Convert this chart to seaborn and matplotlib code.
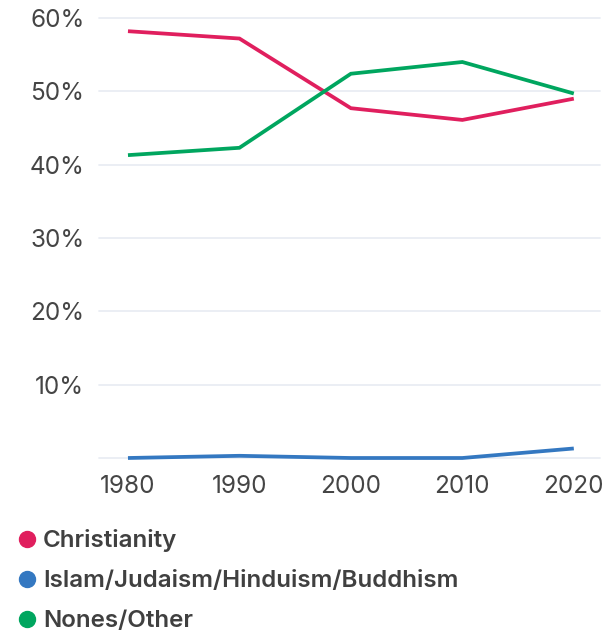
import matplotlib
matplotlib.use("Agg")
import matplotlib.pyplot as plt
from matplotlib.lines import Line2D
import seaborn as sns
import pandas as pd

years = [1980, 1990, 2000, 2010, 2020]
christianity = [58.2, 57.2, 47.7, 46.1, 49.0]
other_faiths = [0.0, 0.3, 0.0, 0.0, 1.3]
nones_other = [41.3, 42.3, 52.4, 54.0, 49.7]
series_names = ["Christianity", "Islam/Judaism/Hinduism/Buddhism", "Nones/Other"]
colors = ["#E01F5E", "#3478C1", "#00A65F"]
y_ticks = [10, 20, 30, 40, 50, 60]
y_labels = ["10%", "20%", "30%", "40%", "50%", "60%"]

df = pd.concat([
    pd.DataFrame({"year": years, "share": vals, "group": name})
    for name, vals in zip(series_names, [christianity, other_faiths, nones_other])
])

sns.set_theme(style="white")
plt.rcParams["font.family"] = ["Inter", "DejaVu Sans"]

W, H = 607, 633
fig = plt.figure(figsize=(W / 100, H / 100), dpi=100)
ax = fig.add_axes([99 / W, 1 - 458 / H, 501 / W, 440 / H])

# light horizontal grid, including baseline
for yv in [0] + y_ticks:
    ax.axhline(yv, color="#E9EDF3", lw=1.3, zorder=0, clip_on=False)

sns.lineplot(data=df, x="year", y="share", hue="group", hue_order=series_names,
             palette=colors, linewidth=2.7, legend=False, ax=ax,
             solid_joinstyle="miter", solid_capstyle="butt")
for ln in ax.lines:
    ln.set_clip_on(False)

ax.set_xlim(1977.4, 2022.35)
ax.set_ylim(0, 60)
ax.set_xticks(years)
ax.set_xticklabels([str(y) for y in years])
ax.set_yticks(y_ticks)
ax.set_yticklabels(y_labels)
ax.tick_params(axis="both", length=0, labelsize=17.5, labelcolor="#454545")
ax.tick_params(axis="x", pad=12)
ax.tick_params(axis="y", pad=10.5)
ax.set_xlabel("")
ax.set_ylabel("")
for s in ax.spines.values():
    s.set_visible(False)

# legend: colored dots with bold labels stacked below the plot
row_centers = [539, 579, 619]
for name, c, yc in zip(series_names, colors, row_centers):
    fig.add_artist(Line2D([27 / W], [1 - yc / H], marker="o", linestyle="",
                          markersize=11.5, markerfacecolor=c, markeredgecolor=c,
                          transform=fig.transFigure))
    fig.text(43 / W, 1 - (yc + 8.5) / H, name, ha="left", va="baseline",
             fontsize=17.4, fontweight="semibold", color="#404040")

fig.savefig("out.png", dpi=100)
